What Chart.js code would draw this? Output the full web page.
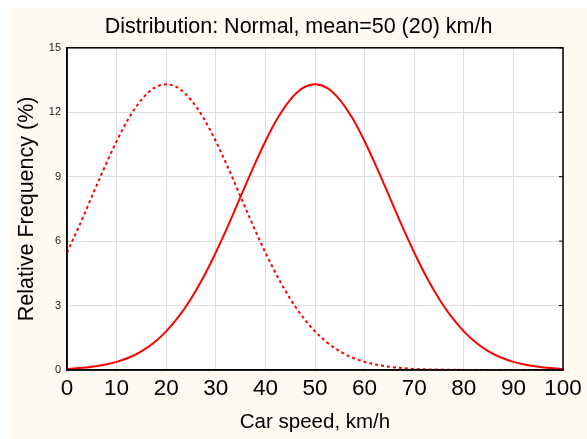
<!DOCTYPE html>
<html>
<head>
<meta charset="utf-8">
<script src="https://cdn.jsdelivr.net/npm/chart.js@4/dist/chart.umd.min.js"></script>
<style>
    html, body { margin: 0; padding: 0; background: #ffffff; }
    #wrap { width: 587px; height: 439px; }
</style>
</head>
<body>
<div id="wrap"><canvas id="chart" width="587" height="439"></canvas></div>
<script>
// speeds in km/h, read every 2.5 km/h along the curves
const speeds = [0, 2.5, 5, 7.5, 10, 12.5, 15, 17.5, 20, 22.5, 25, 27.5, 30, 32.5, 35, 37.5, 40, 42.5, 45, 47.5,
    50, 52.5, 55, 57.5, 60, 62.5, 65, 67.5, 70, 72.5, 75, 77.5, 80, 82.5, 85, 87.5, 90, 92.5, 95, 97.5, 100];

// mean = 50 (solid line)
const mean50 = [0.05, 0.09, 0.15, 0.24, 0.38, 0.58, 0.87, 1.27, 1.80, 2.48, 3.32, 4.32, 5.47, 6.73, 8.07, 9.40, 10.65, 11.74, 12.58, 13.12,
    13.3, 13.12, 12.58, 11.74, 10.65, 9.40, 8.07, 6.73, 5.47, 4.32, 3.32, 2.48, 1.80, 1.27, 0.87, 0.58, 0.38, 0.24, 0.15, 0.09, 0.05];

// mean = 20 (dotted line)
const mean20 = [5.47, 6.73, 8.07, 9.40, 10.65, 11.74, 12.58, 13.12, 13.3, 13.12, 12.58, 11.74, 10.65, 9.40, 8.07, 6.73, 5.47, 4.32, 3.32, 2.48,
    1.80, 1.27, 0.87, 0.58, 0.38, 0.24, 0.15, 0.09, 0.05, 0.03, 0.02, 0.01, 0.005, 0, 0, 0, 0, 0, 0, 0, 0];

const xTicks = [0, 10, 20, 30, 40, 50, 60, 70, 80, 90, 100];
const yTicks = [0, 3, 6, 9, 12, 15];

const FONT = "'Liberation Sans', Arial, sans-serif";

// cream backdrop, white plot area, black frame and small inward ticks on the right
const framePlugin = {
    id: 'frame',
    beforeDraw(chart) {
        const { ctx, chartArea: a } = chart;
        ctx.save();
        ctx.fillStyle = '#fefaf0';
        ctx.fillRect(10, 8, chart.width - 10, chart.height - 8);
        ctx.fillStyle = '#ffffff';
        ctx.fillRect(a.left, a.top, a.right - a.left, a.bottom - a.top);
        ctx.restore();
    },
    afterDatasetsDraw(chart) {
        const { ctx, chartArea: a } = chart;
        const y = chart.scales.y;
        ctx.save();
        ctx.strokeStyle = '#000000';
        ctx.lineWidth = 1.5;
        ctx.strokeRect(a.left, a.top, a.right - a.left, a.bottom - a.top);
        ctx.lineWidth = 1;
        y.ticks.forEach(t => {
            const py = y.getPixelForValue(t.value);
            ctx.beginPath();
            ctx.moveTo(a.right, py);
            ctx.lineTo(a.right - 4, py);
            ctx.stroke();
        });
        ctx.restore();
    }
};

new Chart(document.getElementById('chart').getContext('2d'), {
    type: 'line',
    data: {
        datasets: [{
            label: 'mean=50',
            data: speeds.map((s, i) => ({ x: s, y: mean50[i] })),
            borderColor: '#ff0000',
            borderWidth: 2,
            pointRadius: 0,
            cubicInterpolationMode: 'monotone',
            fill: false
        }, {
            label: 'mean=20',
            data: speeds.map((s, i) => ({ x: s, y: mean20[i] })),
            borderColor: '#ff0000',
            borderWidth: 2,
            borderDash: [3, 3],
            pointRadius: 0,
            cubicInterpolationMode: 'monotone',
            fill: false
        }]
    },
    options: {
        responsive: false,
        animation: false,
        layout: { padding: { left: 10, top: 8, right: 0, bottom: 0 } },
        plugins: {
            legend: { display: false },
            tooltip: { enabled: false },
            title: {
                display: true,
                text: 'Distribution: Normal, mean=50 (20) km/h',
                color: '#000000',
                font: { family: FONT, size: 21.5, weight: 'normal' },
                padding: { top: 6, bottom: 8 }
            }
        },
        scales: {
            x: {
                type: 'linear',
                min: 0,
                max: 100,
                afterBuildTicks(scale) {
                    scale.ticks = xTicks.map(v => ({ value: v }));
                },
                afterFit(scale) { scale.height = 69; },
                grid: { color: '#dddddd', lineWidth: 1, drawTicks: false },
                border: { color: '#000000', width: 1.5 },
                ticks: {
                    color: '#000000',
                    padding: 5,
                    maxRotation: 0,
                    font: { family: FONT, size: 22.5 }
                },
                title: {
                    display: true,
                    text: 'Car speed, km/h',
                    color: '#000000',
                    font: { family: FONT, size: 20.5 },
                    padding: { top: 0, bottom: 4 }
                }
            },
            y: {
                type: 'linear',
                min: 0,
                max: 15,
                afterBuildTicks(scale) {
                    scale.ticks = yTicks.map(v => ({ value: v }));
                },
                afterFit(scale) { scale.width = 57; },
                grid: { color: '#dddddd', lineWidth: 1, drawTicks: false },
                border: { color: '#000000', width: 1.5 },
                ticks: {
                    color: '#222222',
                    padding: 6,
                    font: { family: FONT, size: 11 }
                },
                title: {
                    display: true,
                    text: 'Relative Frequency (%)',
                    color: '#000000',
                    font: { family: FONT, size: 21.5 },
                    padding: { top: 4, bottom: 0 }
                }
            },
            // empty strip on the right, keeps the plot narrower than the backdrop
            yRight: {
                type: 'linear',
                position: 'right',
                display: true,
                min: 0,
                max: 15,
                afterFit(scale) { scale.width = 24; },
                grid: { display: false, drawOnChartArea: false },
                border: { display: false },
                ticks: { display: false }
            }
        }
    },
    plugins: [framePlugin]
});
</script>
</body>
</html>
